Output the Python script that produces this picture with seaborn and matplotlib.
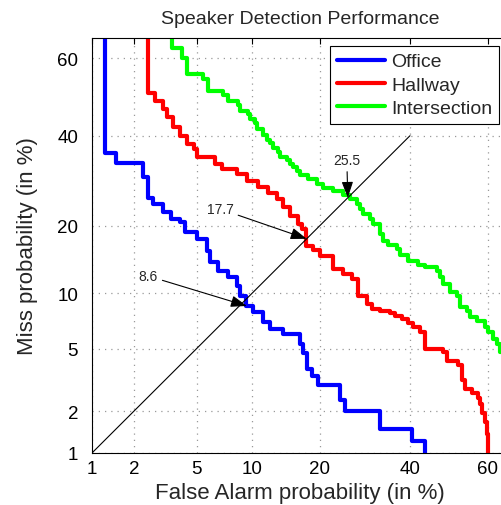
# DET curves: speaker detection in three rooms

from statistics import NormalDist
import numpy as np
import pandas as pd
import seaborn as sns
import matplotlib
matplotlib.use("Agg")
import matplotlib.pyplot as plt

# Data (in %), step corners
ticks = [1, 2, 5, 10, 20, 40, 60]

office_fa = [1.25, 1.5, 2.3, 2.5, 2.7, 3.1, 3.5, 4.0, 4.3, 5.0,
             5.75, 6.0, 6.6, 7.5, 8.4, 8.7, 9.3, 10.1, 11.3, 12.2,
             14.0, 16.6, 17.1, 17.8, 18.6, 19.7, 23.9, 24.9, 32.7, 40.5,
             43.8, 44.6]
office_miss = [70, 35.8, 33.3, 30.1, 25.5, 24.2, 22.6, 21.3, 20.7, 18.9,
               17.7, 15.7, 14.1, 12.8, 12.0, 10.85, 9.7, 8.6, 8.0, 7.1,
               6.5, 6.1, 5.3, 4.7, 3.8, 3.4, 3.0, 2.4, 2.0, 1.5,
               1.23, 0.9]

hallway_fa = [2.5, 2.77, 3.1, 3.3, 3.6, 4.0, 4.4, 4.8, 5.0, 6.4,
              7.0, 8.4, 9.4, 10.7, 11.9, 13.1, 14.0, 15.0, 16.3, 16.9,
              17.6, 18.8, 20.1, 22.5, 24.5, 26.4, 27.7, 29.7, 30.8, 32.7,
              35.1, 36.3, 38.0, 39.5, 40.8, 42.6, 43.8, 48.5, 49.5, 52.4,
              53.4, 54.2, 56.0, 57.5, 58.1, 58.6, 59.3, 59.8, 60.1, 60.6]
hallway_miss = [70, 51.1, 49.0, 46.9, 44.8, 42.3, 40.0, 38.0, 36.7, 34.8,
                33.1, 31.9, 30.8, 29.2, 27.9, 26.5, 25.3, 23.6, 21.9, 20.3,
                19.4, 16.5, 15.9, 15.0, 13.1, 12.4, 11.7, 9.7, 8.8, 8.3,
                8.1, 7.9, 7.6, 7.35, 7.0, 6.65, 6.2, 5.0, 4.8, 4.2,
                4.0, 3.2, 2.8, 2.66, 2.46, 2.24, 1.95, 1.69, 1.38, 0.9]

inter_fa = [3.56, 4.1, 4.4, 5.45, 5.8, 7.05, 7.5, 8.5, 8.7, 9.5,
            9.75, 10.3, 10.6, 11.3, 11.8, 12.2, 12.6, 13.3, 13.6, 14.6,
            15.0, 15.5, 16.1, 16.6, 17.9, 19.5, 20.6, 22.5, 24.5, 26.0,
            27.5, 28.1, 28.8, 30.4, 31.1, 32.7, 33.4, 34.6, 36.8, 37.5,
            39.5, 42.0, 43.8, 46.9, 47.7, 48.5, 50.3, 52.1, 52.9, 54.7,
            55.5, 57.3, 59.3, 60.1, 61.3, 62.3, 63.1, 64.3, 65.5]
inter_miss = [70, 62.6, 60.1, 56.0, 54.7, 51.6, 50.6, 49.0, 47.9, 46.4,
              45.6, 44.3, 43.3, 41.7, 40.2, 39.0, 38.2, 37.0, 36.0, 34.8,
              34.0, 33.1, 32.4, 31.5, 30.5, 29.6, 28.5, 27.6, 27.0, 26.1,
              25.3, 24.2, 23.2, 22.2, 21.3, 20.3, 18.55, 17.35, 16.7, 16.0,
              15.1, 14.2, 13.6, 13.3, 12.8, 12.0, 11.1, 10.1, 9.7, 8.5,
              8.1, 7.5, 7.2, 6.65, 6.2, 5.7, 5.3, 4.8, 4.1]

# EER annotations
eer_labels = ["25.5", "17.7", "8.6"]
tip_fa = [25.5, 17.7, 9.4]
tip_miss = [25.5, 17.7, 8.6]
text_fa = [25.3, 6.8, 2.5]
text_miss = [34.0, 23.2, 12.1]

diag = [1, 40]

nd = NormalDist()


def probit(pct):
    return np.array([nd.inv_cdf(p / 100.0) for p in pct])


sns.set_style("white")
plt.rcParams["font.family"] = ["Liberation Sans", "DejaVu Sans"]

fig = plt.figure(figsize=(5.01, 5.06), dpi=100)
ax = fig.add_axes([0.1836, 0.1028, 0.8303, 0.8202])

series = [("Office", office_fa, office_miss, "#0000ff"),
          ("Hallway", hallway_fa, hallway_miss, "#ff0000"),
          ("Intersection", inter_fa, inter_miss, "#00ff00")]

handles = []
for name, fa, miss, col in series:
    dat = pd.DataFrame({"fa": probit(fa), "miss": probit(miss)})
    sns.lineplot(x="fa", y="miss", data=dat, ax=ax, color=col, lw=3,
                 sort=False, estimator=None, drawstyle="steps-pre")
    handles.append(ax.get_lines()[-1])

# diagonal
sns.lineplot(x=probit(diag), y=probit(diag), ax=ax, color="black", lw=0.8)

for lab, tx, ty, fx, fy in zip(eer_labels, text_fa, text_miss, tip_fa, tip_miss):
    ax.annotate(lab, xy=(probit([fx])[0], probit([fy])[0]),
                xytext=(probit([tx])[0], probit([ty])[0]),
                ha="center", va="center", fontsize=10,
                arrowprops=dict(arrowstyle="-|>,head_length=0.7,head_width=0.25",
                                color="black", lw=0.8, mutation_scale=14,
                                shrinkA=1, shrinkB=0))

ax.set_xlim(probit([1, 65]))
ax.set_ylim(probit([1, 65]))
ax.set_xticks(probit(ticks))
ax.set_xticklabels([str(t) for t in ticks])
ax.set_yticks(probit(ticks))
ax.set_yticklabels([str(t) for t in ticks])
ax.tick_params(direction="in", top=True, right=True, length=4, width=0.8,
               labelsize=13.5, colors="black")
ax.tick_params(axis="y", pad=10)
ax.tick_params(axis="x", pad=5)
ax.grid(True, ls=(0, (1, 4)), color="#999999", lw=0.9)
for s in ax.spines.values():
    s.set_color("black")
    s.set_linewidth(0.8)

ax.set_title("Speaker Detection Performance", fontsize=14, pad=11)
ax.set_xlabel("False Alarm probability (in %)", fontsize=16)
ax.set_ylabel("Miss probability (in %)", fontsize=16)
ax.xaxis.set_label_coords(0.5, -0.07)
ax.yaxis.set_label_coords(-0.13, 0.5)

leg = ax.legend(handles, [s[0] for s in series], loc="upper right",
                bbox_to_anchor=(499 / 501, 1 - 47 / 506),
                bbox_transform=fig.transFigure, borderaxespad=0,
                fancybox=False, edgecolor="black", framealpha=1, fontsize=14,
                handlelength=2.5, handletextpad=0.3, borderpad=0.35,
                labelspacing=0.3)
leg.get_frame().set_linewidth(0.8)

plt.savefig("out.png", dpi=100)
